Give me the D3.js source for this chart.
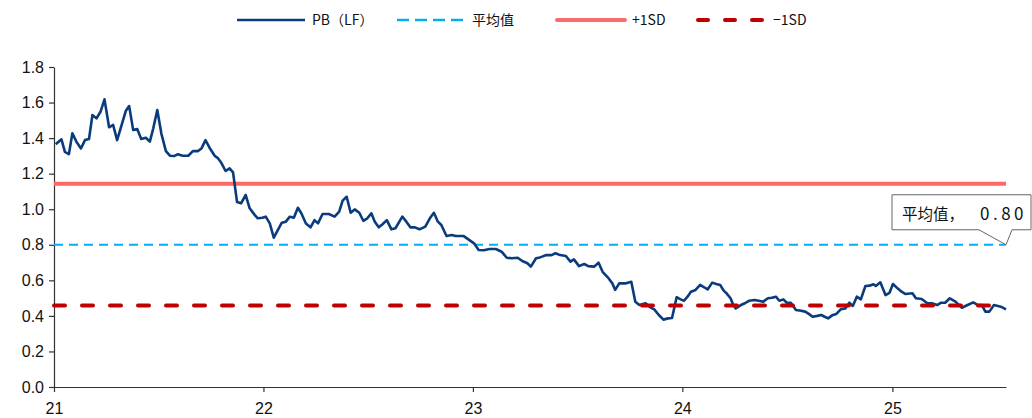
<!DOCTYPE html>
<html>
<head>
<meta charset="utf-8">
<script src="https://cdn.jsdelivr.net/npm/d3@7"></script>
<style>
  body { margin: 0; background: #fff; }
  svg { display: block; }
</style>
</head>
<body>
<div class="board"></div>
<script>
// PB(LF) readings, roughly weekly
var dates = [
  "2021-01-04","2021-01-14","2021-01-20","2021-01-27","2021-02-02","2021-02-09","2021-02-17","2021-02-24",
  "2021-03-03","2021-03-09","2021-03-16","2021-03-23","2021-03-30","2021-04-07","2021-04-14","2021-04-21",
  "2021-04-28","2021-05-06","2021-05-12","2021-05-19","2021-05-26","2021-06-02","2021-06-10","2021-06-17",
  "2021-06-23","2021-06-30","2021-07-07","2021-07-15","2021-07-22","2021-07-29","2021-08-05","2021-08-13",
  "2021-08-23","2021-08-31","2021-09-09","2021-09-15","2021-09-22","2021-09-29","2021-10-08","2021-10-14",
  "2021-10-20","2021-10-27","2021-11-03","2021-11-09","2021-11-16","2021-11-23","2021-12-01","2021-12-08",
  "2021-12-17","2021-12-22","2021-12-30","2022-01-05","2022-01-12","2022-01-19","2022-01-26","2022-02-02",
  "2022-02-09","2022-02-16","2022-02-23","2022-03-02","2022-03-08","2022-03-16","2022-03-24","2022-03-31",
  "2022-04-06","2022-04-14","2022-04-25","2022-05-05","2022-05-13","2022-05-19","2022-05-26","2022-06-02",
  "2022-06-09","2022-06-17","2022-06-24","2022-07-01","2022-07-08","2022-07-14","2022-07-21","2022-07-28",
  "2022-08-04","2022-08-12","2022-08-19","2022-08-31","2022-09-07","2022-09-14","2022-09-22","2022-09-30",
  "2022-10-10","2022-10-18","2022-10-25","2022-11-01","2022-11-07","2022-11-16","2022-11-25","2022-12-02",
  "2022-12-16","2023-01-03","2023-01-11","2023-01-20","2023-01-30","2023-02-10","2023-02-20","2023-03-01",
  "2023-03-10","2023-03-20","2023-03-28","2023-04-06","2023-04-12","2023-04-21","2023-04-28","2023-05-09",
  "2023-05-18","2023-05-25","2023-06-02","2023-06-12","2023-06-20","2023-06-26","2023-07-05","2023-07-14",
  "2023-07-21","2023-07-31","2023-08-08","2023-08-15","2023-08-24","2023-09-01","2023-09-06","2023-09-13",
  "2023-09-25","2023-10-04","2023-10-11","2023-10-18","2023-10-29","2023-11-06","2023-11-13","2023-11-21",
  "2023-11-29","2023-12-07","2023-12-14","2023-12-22","2023-12-29","2024-01-04","2024-01-10","2024-01-16",
  "2024-01-24","2024-02-01","2024-02-08","2024-02-14","2024-02-22","2024-02-29","2024-03-07","2024-03-13",
  "2024-03-18","2024-03-25","2024-03-29","2024-04-03","2024-04-12","2024-04-19","2024-04-26","2024-05-06",
  "2024-05-13","2024-05-21","2024-05-29","2024-06-05","2024-06-12","2024-06-18","2024-06-25","2024-07-01",
  "2024-07-08","2024-07-17","2024-07-26","2024-08-02","2024-08-09","2024-08-15","2024-08-23","2024-08-30",
  "2024-09-05","2024-09-11","2024-09-18","2024-09-25","2024-10-03","2024-10-11","2024-10-18","2024-10-24",
  "2024-10-31","2024-11-07","2024-11-15","2024-11-22","2024-11-29","2024-12-03","2024-12-11","2024-12-20",
  "2024-12-27","2025-01-02","2025-01-10","2025-01-17","2025-01-24","2025-02-05","2025-02-11","2025-02-21",
  "2025-03-03","2025-03-11","2025-03-20","2025-03-27","2025-04-03","2025-04-11","2025-04-21","2025-05-02",
  "2025-05-12","2025-05-22","2025-05-30","2025-06-06","2025-06-12","2025-06-19","2025-06-27","2025-07-09",
  "2025-07-18"
];

var pbValues = [
  1.365,1.393,1.323,1.310,1.427,1.380,1.342,1.389,
  1.395,1.530,1.511,1.548,1.618,1.461,1.474,1.389,
  1.464,1.552,1.580,1.445,1.451,1.395,1.402,1.380,
  1.455,1.558,1.427,1.327,1.301,1.299,1.309,1.301,
  1.301,1.327,1.327,1.342,1.389,1.346,1.301,1.286,
  1.258,1.215,1.230,1.207,1.040,1.033,1.080,1.005,
  0.967,0.949,0.952,0.958,0.920,0.840,0.883,0.924,
  0.930,0.958,0.952,1.008,0.977,0.920,0.898,0.939,
  0.920,0.973,0.973,0.958,0.986,1.048,1.070,0.980,
  0.999,0.980,0.935,0.949,0.977,0.930,0.898,0.917,
  0.939,0.887,0.893,0.958,0.930,0.898,0.898,0.887,
  0.902,0.949,0.980,0.930,0.911,0.849,0.855,0.849,
  0.849,0.808,0.771,0.769,0.776,0.776,0.761,0.727,
  0.724,0.727,0.709,0.696,0.677,0.724,0.729,0.742,
  0.742,0.752,0.742,0.737,0.705,0.718,0.680,0.692,
  0.680,0.677,0.699,0.648,0.617,0.583,0.546,0.583,
  0.583,0.592,0.480,0.461,0.471,0.448,0.437,0.405,
  0.379,0.386,0.388,0.505,0.493,0.485,0.508,0.536,
  0.546,0.574,0.561,0.549,0.587,0.579,0.574,0.542,
  0.527,0.499,0.467,0.442,0.461,0.471,0.485,0.489,
  0.485,0.480,0.499,0.502,0.508,0.485,0.493,0.474,
  0.474,0.433,0.429,0.424,0.410,0.395,0.400,0.405,
  0.395,0.386,0.403,0.410,0.437,0.442,0.474,0.456,
  0.508,0.493,0.568,0.570,0.578,0.568,0.589,0.517,
  0.530,0.579,0.555,0.536,0.523,0.527,0.499,0.495,
  0.471,0.471,0.461,0.474,0.474,0.499,0.480,0.446,
  0.461,0.476,0.461,0.461,0.424,0.424,0.461,0.452,
  0.437
];

var meanLevel = 0.80;
var plusSD = 1.143;
var minusSD = 0.459;

var yTicks = [0, 0.2, 0.4, 0.6, 0.8, 1.0, 1.2, 1.4, 1.6, 1.8];
var legendLabels = ["PB（LF）", "平均值", "+1SD", "−1SD"];
var calloutLabel = "平均值，";

var width = 1032, height = 418;
var margin = { top: 67, right: 26, bottom: 31, left: 54 };

var parseDate = d3.timeParse("%Y-%m-%d");
var series = dates.map(function(d, i) { return { date: parseDate(d), value: pbValues[i] }; });

var svg = d3.select(".board").append("svg")
            .attr("width", width)
            .attr("height", height);

var x = d3.scaleTime()
          .domain([new Date(2021, 0, 1), series[series.length - 1].date])
          .range([margin.left, width - margin.right]);

var y = d3.scaleLinear()
          .domain([0, 1.8])
          .range([height - margin.bottom, margin.top]);

var numFont = "'Liberation Sans', Arial, sans-serif";
var cjkFont = "'Noto Sans CJK SC', 'Noto Sans', sans-serif";

// axes
var yAxis = svg.append("g")
               .attr("transform", "translate(" + margin.left + ",0)")
               .call(d3.axisLeft(y).tickValues(yTicks).tickFormat(d3.format(".1f"))
                       .tickSizeInner(5).tickSizeOuter(0).tickPadding(5));

var xAxis = svg.append("g")
               .attr("transform", "translate(0," + (height - margin.bottom) + ")")
               .call(d3.axisBottom(x).ticks(d3.timeYear.every(1)).tickFormat(d3.timeFormat("%y"))
                       .tickSizeInner(5).tickSizeOuter(0).tickPadding(11));

svg.selectAll(".tick text")
   .style("font-family", numFont)
   .style("font-size", "16px")
   .attr("fill", "#111");
svg.selectAll(".domain, .tick line").attr("stroke", "#333").attr("stroke-width", 1.2);

// reference lines
function hLine(val, color, w, dash, cap) {
  svg.append("line")
     .attr("x1", x.range()[0]).attr("x2", x.range()[1])
     .attr("y1", y(val)).attr("y2", y(val))
     .attr("stroke", color)
     .attr("stroke-width", w)
     .attr("stroke-dasharray", dash)
     .attr("stroke-linecap", cap);
}
hLine(plusSD, "#FF6666", 4, null, "butt");
hLine(meanLevel, "#00B0F0", 2, "9,6", "butt");

// the PB line
var line = d3.line()
             .x(function(d) { return x(d.date); })
             .y(function(d) { return y(d.value); });

svg.append("path")
   .datum(series)
   .attr("d", line)
   .attr("fill", "none")
   .attr("stroke", "#0A3C7D")
   .attr("stroke-width", 2.6)
   .attr("stroke-linejoin", "round");

hLine(minusSD, "#C00000", 4, "11,17", "round");

// callout on the mean line
var tipX = x.range()[1], tipY = y(meanLevel);
var bx0 = tipX - 114, bx1 = width - 1, by0 = tipY - 50, by1 = tipY - 15;
svg.append("path")
   .attr("d", "M" + bx0 + "," + by0 + "H" + bx1 + "V" + by1 + "H" + (tipX + 6) +
              "L" + tipX + "," + tipY + "L" + (tipX - 27) + "," + by1 + "H" + bx0 + "Z")
   .attr("fill", "#fff")
   .attr("stroke", "#666")
   .attr("stroke-width", 1);
var callout = svg.append("text")
   .attr("x", bx0 + 10)
   .attr("y", by0 + 25)
   .style("font-family", cjkFont)
   .attr("fill", "#111");
callout.append("tspan")
   .style("font-size", "15.5px")
   .text(calloutLabel);
callout.append("tspan")
   .attr("x", bx0 + 88)
   .style("font-size", "17px")
   .style("letter-spacing", "3.5px")
   .text(d3.format(".2f")(meanLevel));

// legend
var legend = [
  { x: 237, color: "#0A3C7D", w: 2.5, dash: null, cap: "butt" },
  { x: 397, color: "#00B0F0", w: 2.5, dash: "12,6", cap: "butt" },
  { x: 557, color: "#FF6B6B", w: 4, dash: null, cap: "round" },
  { x: 698, color: "#C00000", w: 4, dash: "10,17", cap: "round" }
];
legend.forEach(function(l, i) {
  svg.append("line")
     .attr("x1", l.x).attr("x2", l.x + 68)
     .attr("y1", 20).attr("y2", 20)
     .attr("stroke", l.color)
     .attr("stroke-width", l.w)
     .attr("stroke-dasharray", l.dash)
     .attr("stroke-linecap", l.cap);
  svg.append("text")
     .attr("x", l.x + 75)
     .attr("y", 25)
     .style("font-family", cjkFont)
     .style("font-size", "14px")
     .attr("fill", "#111")
     .text(legendLabels[i]);
});
</script>
</body>
</html>
